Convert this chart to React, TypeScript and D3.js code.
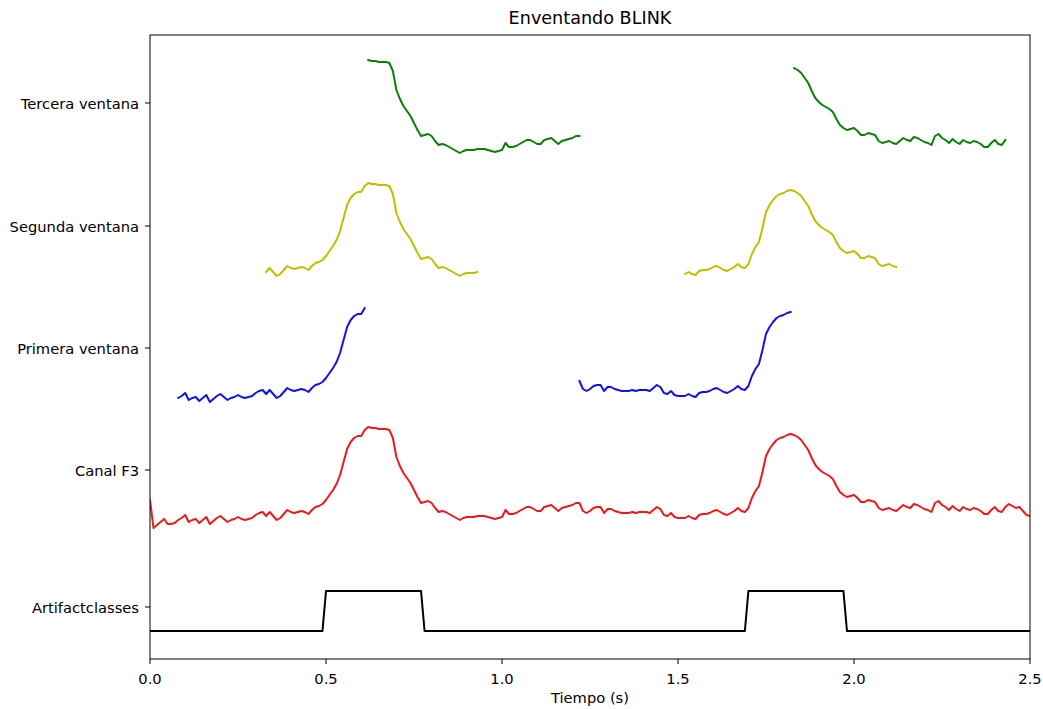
import React from "react";
import * as d3 from "d3";

// ---- data ----
const DT = 0.01; // seconds per sample
const f3Values: number[] = [
  -30, -58, -55, -52, -49, -54, -54, -53, -50, -48,
  -45, -52, -50, -49, -53, -50, -47, -54, -51, -48,
  -46, -49, -52, -50, -49, -47, -49, -50, -49, -48,
  -45, -43, -42, -46, -42, -46, -50, -48, -44, -40,
  -42, -43, -42, -41, -42, -44, -40, -37, -36, -34,
  -30, -25, -20, -14, -5, 8, 21, 28, 32, 34,
  34, 40, 43, 42, 42, 41, 41, 41, 40, 32,
  13, 4, -3, -8, -13, -20, -27, -33, -32, -31,
  -33, -38, -42, -41, -42, -44, -46, -48, -50, -48,
  -47, -47, -47, -46, -46, -46, -47, -48, -49, -48,
  -47, -40, -44, -44, -43, -41, -39, -37, -37, -39,
  -41, -41, -37, -36, -35, -38, -41, -38, -37, -36,
  -35, -33, -33, -41, -43, -41, -38, -37, -37, -43,
  -39, -39, -41, -42, -43, -43, -43, -42, -43, -42,
  -42, -42, -43, -40, -37, -39, -45, -46, -43, -47,
  -48, -48, -48, -46, -48, -49, -45, -44, -44, -43,
  -41, -40, -42, -44, -45, -43, -41, -38, -41, -42,
  -38, -28, -21, -16, -2, 14, 21, 26, 30, 32,
  33, 35, 36, 35, 33, 30, 25, 20, 12, 5,
  1, -2, -4, -6, -9, -16, -22, -25, -27, -26,
  -25, -28, -32, -32, -30, -31, -32, -38, -40, -39,
  -38, -40, -41, -38, -35, -37, -38, -34, -35, -37,
  -39, -40, -42, -33, -31, -35, -37, -40, -36, -39,
  -41, -37, -39, -40, -38, -39, -41, -44, -44, -40,
  -37, -41, -42, -37, -34, -36, -38, -37, -41, -45,
  -46,
];

// window intervals (seconds) cut from the F3 channel
const primeraWindows: [number, number][] = [[0.08, 0.61], [1.22, 1.82]];
const segundaWindows: [number, number][] = [[0.33, 0.93], [1.52, 2.12]];
const terceraWindows: [number, number][] = [[0.62, 1.22], [1.83, 2.43]];

// artifact class step signal
const artifactTimes = [0, 0.49, 0.5, 0.77, 0.78, 1.69, 1.7, 1.97, 1.98, 2.5];
const artifactClasses = [0, 0, 1, 1, 0, 0, 1, 1, 0, 0];

// y ticks (track labels and their offsets)
const trackLabels = ["Artifactclasses", "Canal F3", "Primera ventana", "Segunda ventana", "Tercera ventana"];
const trackOffsets = [-137, 0, 122, 244, 367];
const xTicks = [0, 0.5, 1.0, 1.5, 2.0, 2.5];

// ---- layout ----
const W = 1043;
const H = 709;
const M = { left: 150, right: 1030, top: 35, bottom: 659 };
const FONT = "DejaVu Sans, sans-serif";
const ART_LOW = -24;
const ART_AMP = 40;
const TICK_FS = 14.7;

export default function App() {
  const x = d3.scaleLinear().domain([0, 2.5]).range([M.left, M.right]);
  const y = d3.scaleLinear().domain([-189, 435]).range([M.bottom, M.top]);

  const pts = f3Values.map((v, i) => ({ t: i * DT, v }));
  const mkLine = (offset: number) =>
    d3
      .line<{ t: number; v: number }>()
      .x((d) => x(d.t))
      .y((d) => y(d.v + offset));

  const slice = (w: [number, number]) => {
    const a = Math.round(w[0] / DT);
    const b = Math.round(w[1] / DT);
    return pts.slice(a, b + 1);
  };

  const artPts = artifactTimes.map((t, i) => ({ t, v: ART_LOW + ART_AMP * artifactClasses[i] }));

  const windowSets: { wins: [number, number][]; offset: number; color: string }[] = [
    { wins: primeraWindows, offset: trackOffsets[2], color: "#1212e8" },
    { wins: segundaWindows, offset: trackOffsets[3], color: "#bfbf00" },
    { wins: terceraWindows, offset: trackOffsets[4], color: "#0a800a" },
  ];

  return (
    <svg
      width={W}
      height={H}
      style={{ position: "absolute", left: 0, top: 0, background: "#fff" }}
      fontFamily={FONT}
    >
      <defs>
        <clipPath id="plotclip">
          <rect x={M.left} y={M.top} width={M.right - M.left} height={M.bottom - M.top} />
        </clipPath>
      </defs>
      <rect x={0} y={0} width={W} height={H} fill="#fff" />
      <g clipPath="url(#plotclip)" fill="none" strokeLinejoin="round" strokeLinecap="square">
        <path d={mkLine(trackOffsets[0])(artPts) || ""} stroke="#000" strokeWidth={2} />
        <path d={mkLine(trackOffsets[1])(pts) || ""} stroke="#ea1a1a" strokeWidth={2} />
        {windowSets.map((ws, i) =>
          ws.wins.map((w, j) => (
            <path key={`${i}-${j}`} d={mkLine(ws.offset)(slice(w)) || ""} stroke={ws.color} strokeWidth={2} />
          ))
        )}
      </g>
      {/* frame */}
      <rect
        x={M.left}
        y={M.top}
        width={M.right - M.left}
        height={M.bottom - M.top}
        fill="none"
        stroke="#000"
        strokeWidth={1}
      />
      {/* y ticks */}
      {trackLabels.map((lab, i) => (
        <g key={lab}>
          <line x1={M.left - 5} x2={M.left} y1={y(trackOffsets[i])} y2={y(trackOffsets[i])} stroke="#000" />
          <text
            x={M.left - 11}
            y={y(trackOffsets[i])}
            textAnchor="end"
            dominantBaseline="central"
            fontSize={TICK_FS}
            fill="#000"
          >
            {lab}
          </text>
        </g>
      ))}
      {/* x ticks */}
      {xTicks.map((t) => (
        <g key={t}>
          <line x1={x(t)} x2={x(t)} y1={M.bottom} y2={M.bottom + 5} stroke="#000" />
          <text x={x(t)} y={M.bottom + 19} textAnchor="middle" dominantBaseline="central" fontSize={TICK_FS} fill="#000">
            {t.toFixed(1)}
          </text>
        </g>
      ))}
      <text
        x={(M.left + M.right) / 2}
        y={M.bottom + 38}
        textAnchor="middle"
        dominantBaseline="central"
        fontSize={TICK_FS}
        fill="#000"
      >
        Tiempo (s)
      </text>
      <text
        x={(M.left + M.right) / 2}
        y={18}
        textAnchor="middle"
        dominantBaseline="central"
        fontSize={17.6}
        fill="#000"
      >
        Enventando BLINK
      </text>
    </svg>
  );
}
